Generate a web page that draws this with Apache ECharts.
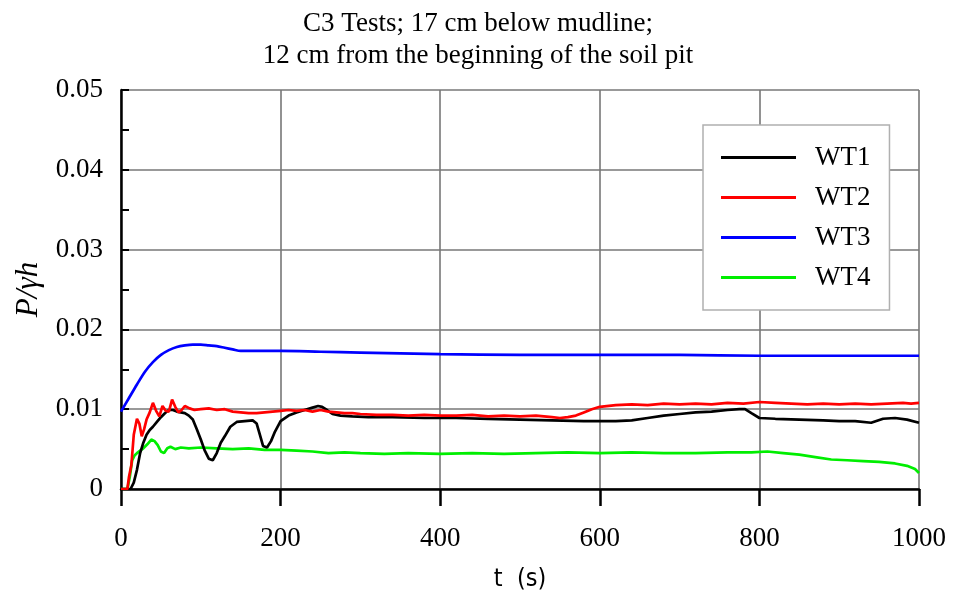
<!DOCTYPE html>
<html>
<head>
<meta charset="utf-8">
<script src="https://cdn.jsdelivr.net/npm/echarts@6/dist/echarts.min.js"></script>
<style>html,body{margin:0;padding:0;background:#fff;overflow:hidden}#c{width:956px;height:597px}</style>
</head>
<body>
<div id="c"></div>
<script>
const titleLines = ["C3 Tests; 17 cm below mudline;", "12 cm from the beginning of the soil pit"];
const seriesNames = ["WT1", "WT2", "WT3", "WT4"];
const seriesColors = ["#000000", "#ff0000", "#0000ff", "#00ee00"];

const wt1T = [0,12,16,20,24,28,32,36,40,45,50,55,60,65,70,75,80,85,90,95,100,105,110,115,120,125,130,137,145,155,165,170,174,178,183,188,193,200,210,220,230,240,247,252,258,265,275,290,310,340,380,420,460,500,540,580,620,640,660,680,700,720,740,760,775,782,790,800,820,850,880,900,920,940,955,970,985,1000];
const wt1V = [0,0,0.0008,0.0024,0.0045,0.0058,0.0068,0.0074,0.0078,0.0084,0.0090,0.0095,0.0099,0.0099,0.0097,0.0096,0.0095,0.0092,0.0087,0.0075,0.0062,0.0048,0.0038,0.0036,0.0045,0.0058,0.0066,0.0078,0.0084,0.0085,0.0086,0.0082,0.0068,0.0054,0.0052,0.0060,0.0072,0.0085,0.0092,0.0096,0.0099,0.0102,0.0104,0.0103,0.0099,0.0094,0.0092,0.0091,0.0090,0.0090,0.0089,0.0089,0.0088,0.0087,0.0086,0.0085,0.0085,0.0086,0.0089,0.0092,0.0094,0.0096,0.0097,0.0099,0.0100,0.0100,0.0095,0.0089,0.0088,0.0087,0.0086,0.0085,0.0085,0.0083,0.0088,0.0089,0.0087,0.0083];

const wt2T = [0,8,10,13,16,20,23,26,29,32,36,40,44,48,52,56,60,64,68,72,76,80,86,92,100,110,120,130,140,150,160,170,180,190,200,210,220,230,240,250,260,270,280,290,300,320,340,360,380,400,420,440,460,480,500,520,530,540,550,560,570,580,590,600,620,640,660,680,700,720,740,760,780,800,820,840,860,880,900,920,940,960,980,990,1000];
const wt2V = [0,0,0.0015,0.0030,0.0068,0.0088,0.0082,0.0066,0.0075,0.0087,0.0096,0.0108,0.0098,0.0091,0.0104,0.0098,0.0097,0.0112,0.0103,0.0096,0.0099,0.0104,0.0101,0.0099,0.0100,0.0101,0.0099,0.0100,0.0097,0.0096,0.0095,0.0095,0.0096,0.0097,0.0098,0.0099,0.0098,0.0099,0.0097,0.0099,0.0097,0.0096,0.0095,0.0095,0.0094,0.0093,0.0093,0.0092,0.0093,0.0092,0.0092,0.0093,0.0091,0.0092,0.0091,0.0092,0.0091,0.0090,0.0089,0.0090,0.0092,0.0096,0.0100,0.0103,0.0105,0.0106,0.0105,0.0107,0.0106,0.0107,0.0106,0.0108,0.0107,0.0109,0.0108,0.0107,0.0106,0.0107,0.0106,0.0107,0.0106,0.0107,0.0108,0.0107,0.0108];

const wt3T = [0,10,20,30,40,50,60,70,80,90,100,110,120,130,140,150,175,200,250,300,400,500,600,700,800,900,1000];
const wt3V = [0.0097,0.0114,0.0131,0.0147,0.0159,0.0168,0.0174,0.0178,0.0180,0.0181,0.0181,0.0180,0.0179,0.0177,0.0175,0.0173,0.0173,0.0173,0.0172,0.0171,0.0169,0.0168,0.0168,0.0168,0.0167,0.0167,0.0167];

const wt4T = [0,8,11,14,17,20,24,28,33,38,42,46,50,54,58,62,68,75,85,100,120,140,160,180,200,220,240,260,280,300,330,360,400,440,480,520,560,600,640,680,720,760,790,810,830,850,870,890,910,930,950,970,985,995,1000];
const wt4V = [0,0,0.0015,0.0036,0.0042,0.0045,0.0048,0.0051,0.0056,0.0062,0.0060,0.0055,0.0047,0.0045,0.0051,0.0053,0.0050,0.0052,0.0051,0.0052,0.0051,0.0050,0.0051,0.0049,0.0049,0.0048,0.0047,0.0045,0.0046,0.0045,0.0044,0.0045,0.0044,0.0045,0.0044,0.0045,0.0046,0.0045,0.0046,0.0045,0.0045,0.0046,0.0046,0.0047,0.0045,0.0043,0.0040,0.0037,0.0036,0.0035,0.0034,0.0032,0.0029,0.0025,0.0020];

const xTicks = [0,200,400,600,800,1000];
const yTicks = [0,0.01,0.02,0.03,0.04,0.05];

const allT = [wt1T, wt2T, wt3T, wt4T];
const allV = [wt1V, wt2V, wt3V, wt4V];

const serif = "'Liberation Serif','Times New Roman',serif";
const chart = echarts.init(document.getElementById('c'), null, {renderer: 'canvas', width: 956, height: 597});

const series = seriesNames.map((n, i) => ({
  name: n,
  type: 'line',
  showSymbol: false,
  symbol: 'none',
  smooth: i === 2 ? 0.3 : false,
  data: allT[i].map((t, k) => [t, allV[i][k]]),
  lineStyle: {color: seriesColors[i], width: 2.7},
  itemStyle: {color: seriesColors[i]},
  z: [3, 4, 2, 1][i]
}));

chart.setOption({
  animation: false,
  backgroundColor: '#fff',
  title: {
    text: titleLines.join('\n'),
    left: 'center',
    top: 3,
    textStyle: {fontFamily: serif, fontSize: 27, fontWeight: 'normal', color: '#000', lineHeight: 32}
  },
  grid: {left: 121, top: 90, width: 798, height: 399, containLabel: false},
  legend: {
    orient: 'vertical',
    left: 703,
    top: 125,
    padding: [19, 19, 19, 18],
    itemGap: 13,
    itemWidth: 75,
    itemHeight: 3,
    icon: 'rect',
    backgroundColor: '#fff',
    borderColor: '#b0b0b0',
    borderWidth: 1.5,
    data: seriesNames,
    textStyle: {fontFamily: serif, fontSize: 27, color: '#000', lineHeight: 27, padding: [0, 0, 0, 14]}
  },
  xAxis: {
    type: 'value',
    min: 0, max: 1000, interval: 200,
    name: 't  (s)',
    nameLocation: 'middle',
    nameGap: 78,
    nameTextStyle: {fontFamily: "'Liberation Sans Narrow','DejaVu Sans Condensed','Liberation Sans',sans-serif", fontSize: 25, color: '#000'},
    axisLine: {show: true, onZero: false, lineStyle: {color: '#000', width: 2.5}},
    axisTick: {show: true, inside: false, length: 17, lineStyle: {color: '#000', width: 2.5}},
    axisLabel: {fontFamily: serif, fontSize: 27, color: '#000', margin: 36, formatter: v => String(v)},
    splitLine: {show: true, lineStyle: {color: '#777', width: 1.6}}
  },
  yAxis: {
    type: 'value',
    min: 0, max: 0.05, interval: 0.01,
    name: 'P/γh',
    nameLocation: 'middle',
    nameGap: 77,
    nameTextStyle: {fontFamily: serif, fontStyle: 'italic', fontSize: 31, color: '#000'},
    axisLine: {show: true, lineStyle: {color: '#000', width: 2.5}},
    axisTick: {show: true, inside: true, length: 8, lineStyle: {color: '#000', width: 2}},
    minorTick: {show: true, splitNumber: 2, length: 8, lineStyle: {color: '#000', width: 2}},
    axisLabel: {fontFamily: serif, fontSize: 27, color: '#000', margin: 18,
      formatter: v => (v === 0 ? '0' : v.toFixed(2))},
    splitLine: {show: true, lineStyle: {color: '#777', width: 1.6}}
  },
  series: series
});
</script>
</body>
</html>
